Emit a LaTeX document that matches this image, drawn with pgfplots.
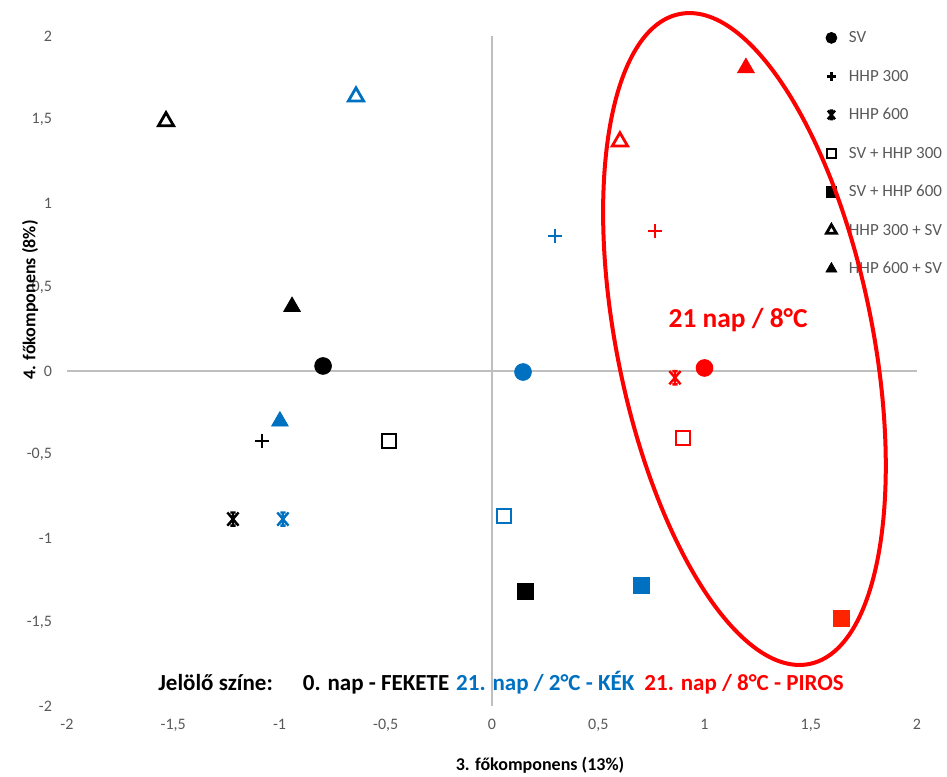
\documentclass[border=0pt]{standalone}
\usepackage{fontspec}
\setmainfont{Carlito}
\usepackage{pgfplots}
\pgfplotsset{compat=1.18}
\definecolor{myblue}{RGB}{0,112,192}
\definecolor{myred}{RGB}{255,0,0}
\definecolor{redfill}{RGB}{255,36,0}
\definecolor{tickgray}{RGB}{89,89,89}
\definecolor{axgray}{RGB}{191,191,191}
\pgfdeclareplotmark{xstar}{%
  \pgfpathmoveto{\pgfqpoint{-0.85\pgfplotmarksize}{-\pgfplotmarksize}}%
  \pgfpathlineto{\pgfqpoint{0.85\pgfplotmarksize}{\pgfplotmarksize}}%
  \pgfpathmoveto{\pgfqpoint{-0.85\pgfplotmarksize}{\pgfplotmarksize}}%
  \pgfpathlineto{\pgfqpoint{0.85\pgfplotmarksize}{-\pgfplotmarksize}}%
  \pgfpathmoveto{\pgfqpoint{0pt}{-\pgfplotmarksize}}%
  \pgfpathlineto{\pgfqpoint{0pt}{\pgfplotmarksize}}%
  \pgfpathmoveto{\pgfqpoint{-0.4\pgfplotmarksize}{\pgfplotmarksize}}%
  \pgfpathlineto{\pgfqpoint{0.4\pgfplotmarksize}{\pgfplotmarksize}}%
  \pgfpathmoveto{\pgfqpoint{-0.4\pgfplotmarksize}{-\pgfplotmarksize}}%
  \pgfpathlineto{\pgfqpoint{0.4\pgfplotmarksize}{-\pgfplotmarksize}}%
  \pgfusepathqstroke
}
\pgfplotsset{
  lm/.style={only marks, legend image code/.code={\draw[##1, every mark/.append style={scale=0.65}] plot coordinates {(0pt,0pt)};}},
  mSV/.style={lm, mark=*, mark size=4.2pt, color=#1, mark options={fill=#1, draw=#1}},
  mH3/.style={lm, mark=+, mark size=3.4pt, color=#1, mark options={line width=1.3pt, draw=#1}},
  mH6/.style={lm, mark=xstar, mark size=3.3pt, color=#1, mark options={line width=1.2pt, draw=#1}},
  mS3/.style={lm, mark=square, mark size=3.5pt, color=#1, mark options={line width=1.2pt, draw=#1, fill=white}},
  mS6/.style={lm, mark=square*, mark size=4pt, color=#1, mark options={fill=#1, draw=#1}},
  mT3/.style={lm, mark=triangle, mark size=4.4pt, color=#1, mark options={line width=1.4pt, draw=#1, fill=white}},
  mT6/.style={lm, mark=triangle*, mark size=4.8pt, color=#1, mark options={fill=#1, draw=#1}},
}
\begin{document}
\begin{tikzpicture}
\begin{axis}[
  scale only axis, width=425pt, height=335pt,
  xmin=-2, xmax=2, ymin=-2, ymax=2,
  axis line style={draw=none},
  major tick length=0pt,
  xtick={-2,-1.5,-1,-0.5,0,0.5,1,1.5,2},
  ytick={-2,-1.5,-1,-0.5,0,0.5,1,1.5,2},
  xticklabels={-2,{-1,5},-1,{-0,5},0,{0,5},1,{1,5},2},
  yticklabels={-2,{-1,5},-1,{-0,5},0,{0,5},1,{1,5},2},
  tick label style={font=\fontsize{8}{9}\selectfont, text=tickgray},
  xticklabel style={yshift=-3pt},
  yticklabel style={xshift=-4pt},
  clip=false,
  legend style={draw=none, fill=none, at={(0.8924,1.0112)}, anchor=north west,
    font=\fontsize{8.5}{10}\selectfont, text=tickgray, inner sep=0pt,
    row sep=10.25pt, column sep=6pt,
    nodes={inner sep=0pt, text height=7pt, text depth=2pt}},
  legend cell align=left,
]
\draw[axgray, line width=0.6pt] (axis cs:-2,0) -- (axis cs:2,0);
\draw[axgray, line width=0.6pt] (axis cs:0,-2) -- (axis cs:0,2);
% black: 0. nap
\addplot[mSV=black] coordinates {(-0.795,0.03)};
\addlegendentry{SV}
\addplot[mH3=black] coordinates {(-1.082,-0.418)};
\addlegendentry{HHP 300}
\addplot[mH6=black] coordinates {(-1.219,-0.884)};
\addlegendentry{HHP 600}
\addplot[mS3=black] coordinates {(-0.485,-0.418)};
\addlegendentry{SV + HHP 300}
\addplot[mS6=black] coordinates {(0.155,-1.313)};
\addlegendentry{SV + HHP 600}
\addplot[mT3=black] coordinates {(-1.534,1.49)};
\addlegendentry{HHP 300 + SV}
\addplot[mT6=black] coordinates {(-0.941,0.384)};
\addlegendentry{HHP 600 + SV}
% blue: 21. nap / 2 C
\addplot[mSV=myblue, forget plot] coordinates {(0.146,-0.006)};
\addplot[mH3=myblue, forget plot] coordinates {(0.296,0.806)};
\addplot[mH6=myblue, forget plot] coordinates {(-0.984,-0.884)};
\addplot[mS3=myblue, forget plot] coordinates {(0.056,-0.866)};
\addplot[mS6=myblue, forget plot] coordinates {(0.701,-1.278)};
\addplot[mT3=myblue, forget plot] coordinates {(-0.64,1.638)};
\addplot[mT6=myblue, forget plot] coordinates {(-0.998,-0.30)};
% red: 21. nap / 8 C
\addplot[mSV=myred, forget plot] coordinates {(1.0,0.018)};
\addplot[mH3=myred, forget plot] coordinates {(0.767,0.836)};
\addplot[mH6=myred, forget plot] coordinates {(0.861,-0.04)};
\addplot[mS3=myred, forget plot] coordinates {(0.899,-0.40)};
\addplot[mS6=redfill, forget plot] coordinates {(1.642,-1.475)};
\addplot[mT3=myred, forget plot] coordinates {(0.602,1.37)};
\addplot[mT6=myred, forget plot] coordinates {(1.195,1.81)};
\coordinate (E) at (axis cs:1.188,0.191);
\node[anchor=west, inner sep=0pt, font=\bfseries\fontsize{11.5}{14}\selectfont] at (axis cs:-1.572,-1.863)
  {Jelölő színe:\hspace{15pt}0. nap - FEKETE\hspace{3.5pt}\textcolor{myblue}{21. nap / 2°C - KÉK}\hspace{5pt}\textcolor{myred}{21. nap / 8°C - PIROS}};
\node[inner sep=0pt, text=myred, font=\bfseries\fontsize{13.7}{16}\selectfont] at (axis cs:1.158,0.304) {21 nap / 8°C};
\end{axis}
\draw[myred, line width=2pt, rotate around={11.3:(E)}] (E) ellipse [x radius=64pt, y radius=165.7pt];
\node[font=\bfseries\fontsize{9}{11}\selectfont] at (236.5pt,-29.5pt) {3. főkomponens (13\%)};
\node[font=\bfseries\fontsize{9}{11}\selectfont, rotate=90] at (-18.5pt,203pt) {4. főkomponens (8\%)};
\pgfresetboundingbox
\path[use as bounding box] (-33.5pt,-35pt) rectangle (440pt,353pt);
\end{tikzpicture}
\end{document}
